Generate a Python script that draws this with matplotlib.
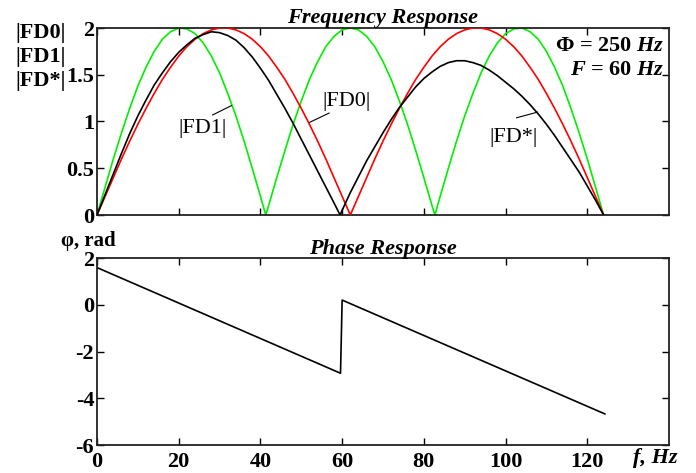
import matplotlib
matplotlib.use("Agg")
import matplotlib.pyplot as plt
import numpy as np

# ---------------- data ----------------
f_red = [0, 2, 4, 6, 8, 10, 12, 14, 16, 18, 20, 22, 24, 26, 28, 30, 32, 34, 36, 38, 40,
         42, 44, 46, 48, 50, 52, 54, 56, 58, 60, 62, 64, 66, 68, 70, 72, 74, 76, 78, 80,
         82, 84, 86, 88, 90, 92, 94, 96, 98, 100, 102, 104, 106, 108, 110, 112, 114, 116,
         118, 120, 122, 124]
fd0 = [0, 0.20, 0.40, 0.60, 0.79, 0.97, 1.14, 1.30, 1.45, 1.58, 1.70, 1.80, 1.88, 1.94,
       1.98, 2.00, 2.00, 1.98, 1.94, 1.88, 1.80, 1.70, 1.58, 1.45, 1.30, 1.14, 0.97, 0.79,
       0.60, 0.40, 0.20, 0,
       0.20, 0.40, 0.60, 0.79, 0.97, 1.14, 1.30, 1.45, 1.58, 1.70, 1.80, 1.88, 1.94,
       1.98, 2.00, 2.00, 1.98, 1.94, 1.88, 1.80, 1.70, 1.58, 1.45, 1.30, 1.14, 0.97, 0.79,
       0.60, 0.40, 0.20, 0]

f_green = [0, 2, 4, 6, 8, 10, 12, 14, 16, 18, 20, 22, 24, 26, 28, 30, 32, 34, 36, 38, 40,
           41.3, 42, 44, 46, 48, 50, 52, 54, 56, 58, 60, 62, 64, 66, 68, 70, 72, 74, 76, 78,
           80, 82, 82.7, 84, 86, 88, 90, 92, 94, 96, 98, 100, 102, 104, 106, 108, 110, 112,
           114, 116, 118, 120, 122, 124]
fd1 = [0, 0.30, 0.60, 0.88, 1.14, 1.38, 1.58, 1.75, 1.88, 1.96, 2.00, 1.99, 1.94, 1.84,
       1.70, 1.52, 1.30, 1.06, 0.79, 0.50, 0.20, 0, 0.10, 0.40, 0.69, 0.97, 1.22, 1.45,
       1.64, 1.80, 1.91, 1.98, 2.00, 1.98, 1.91, 1.80, 1.64, 1.45, 1.22, 0.97, 0.69, 0.40,
       0.10, 0, 0.20, 0.50, 0.79, 1.06, 1.30, 1.52, 1.70, 1.84, 1.94, 1.99, 2.00, 1.96,
       1.88, 1.75, 1.58, 1.38, 1.14, 0.88, 0.60, 0.30, 0]

f_black = [0, 2, 4, 6, 8, 10, 12, 14, 16, 18, 20, 22, 24, 26, 28, 30, 32, 34, 36, 38, 40,
           42, 44, 46, 48, 50, 52, 54, 56, 58, 59.5, 60, 62, 64, 66, 68, 70, 72, 74, 76, 78,
           80, 82, 84, 86, 88, 90, 92, 94, 96, 98, 100, 102, 104, 106, 108, 110, 112, 114,
           116, 118, 120, 122, 124]
fd_star = [0, 0.22, 0.44, 0.66, 0.87, 1.06, 1.23, 1.39, 1.52, 1.64, 1.74, 1.82, 1.89,
           1.93, 1.96, 1.95, 1.92, 1.87, 1.79, 1.69, 1.57, 1.44, 1.29, 1.14, 0.98, 0.81,
           0.64, 0.47, 0.30, 0.13, 0, 0.05, 0.24, 0.41, 0.58, 0.73, 0.88, 1.02, 1.15, 1.26,
           1.37, 1.46, 1.53, 1.59, 1.63, 1.65, 1.65, 1.63, 1.60, 1.55, 1.49, 1.42, 1.35,
           1.27, 1.18, 1.08, 0.97, 0.85, 0.72, 0.59, 0.46, 0.31, 0.16, 0]

f_phase = [0, 59.6, 60.0, 124.3]
phase = [1.59, -2.93, 0.20, -4.67]

x_ticks = [0, 20, 40, 60, 80, 100, 120]
top_yticks = [0, 0.5, 1, 1.5, 2]
top_ylabels = ["0", "0.5", "1", "1.5", "2"]
bot_yticks = [-6, -4, -2, 0, 2]

# ---------------- figure ----------------
plt.rcParams['font.family'] = ['Liberation Serif', 'DejaVu Serif']
plt.rcParams['mathtext.fontset'] = 'custom'
plt.rcParams['mathtext.rm'] = 'Liberation Serif:bold'
plt.rcParams['mathtext.bf'] = 'Liberation Serif:bold'
plt.rcParams['mathtext.it'] = 'Liberation Serif:italic:bold'

W, H = 696, 473
fig = plt.figure(figsize=(W / 100, H / 100), dpi=100)

def px_axes(l, t, r, b):
    return fig.add_axes([l / W, 1 - b / H, (r - l) / W, (b - t) / H])

ax1 = px_axes(97, 28, 669, 215)
ax2 = px_axes(97, 258, 669, 445)

tick_font = dict(family='Liberation Serif', weight='bold', size=16)

for ax in (ax1, ax2):
    ax.set_xlim(0, 140)
    ax.set_xticks(x_ticks)
    ax.tick_params(direction='in', length=5, width=1, top=True, right=True,
                   pad=2, colors='black')
    for s in ax.spines.values():
        s.set_linewidth(1.3)
        s.set_color('#222222')
ax2.tick_params(axis='x', pad=5)

# top panel
ax1.plot(f_green, fd1, color='#00f000', lw=1.2, zorder=2)
ax1.plot(f_red, fd0, color='#ff0000', lw=1.2, zorder=3)
ax1.plot(f_black, fd_star, color='black', lw=1.2, zorder=4)
ax1.set_ylim(0, 2)
ax1.set_yticks(top_yticks)
ax1.set_yticklabels(top_ylabels, fontdict=tick_font)
ax1.set_xticklabels([])
ax1.set_title('Frequency Response', fontsize=16, fontweight='bold', style='italic',
              pad=3)

ann = dict(fontsize=16, ha='center', va='center')
ax1.text(25.9, 0.93, '|FD1|', **ann)
ax1.plot([28.3, 32.9], [1.07, 1.17], color='black', lw=0.8)
ax1.text(61.0, 1.21, '|FD0|', **ann)
ax1.plot([52.0, 56.8], [0.99, 1.09], color='black', lw=0.8)
ax1.text(102.0, 0.83, '|FD*|', **ann)
ax1.plot([102.7, 107.8], [1.04, 1.10], color='black', lw=0.8)

fig.text(664 / W, 1 - 46 / H, r'Φ = 250 $\it{Hz}$', ha='right', va='center',
         fontsize=16, fontweight='bold')
fig.text(664 / W, 1 - 70 / H, r'$\it{F}$ = 60 $\it{Hz}$', ha='right', va='center',
         fontsize=16, fontweight='bold')

for i, lab in enumerate(['|FD0|', '|FD1|', '|FD*|']):
    fig.text(41 / W, 1 - (33 + 24 * i) / H, lab, ha='center', va='center',
             fontsize=16, fontweight='bold')

# bottom panel
ax2.plot(f_phase, phase, color='black', lw=1.2)
ax2.set_ylim(-6, 2)
ax2.set_yticks(bot_yticks)
ax2.set_yticklabels([str(v) for v in bot_yticks], fontdict=tick_font)
ax2.set_xticklabels([str(v) for v in x_ticks], fontdict=tick_font)
ax2.set_title('Phase Response', fontsize=16, fontweight='bold', style='italic', pad=3)

fig.text(88 / W, 1 - 241 / H, 'φ, rad', ha='center', va='center', fontsize=15,
         fontweight='bold')
fig.text(655 / W, 1 - 458 / H, 'f, Hz', ha='center', va='center', fontsize=16,
         fontweight='bold', style='italic')

fig.savefig('out.png', dpi=100)
